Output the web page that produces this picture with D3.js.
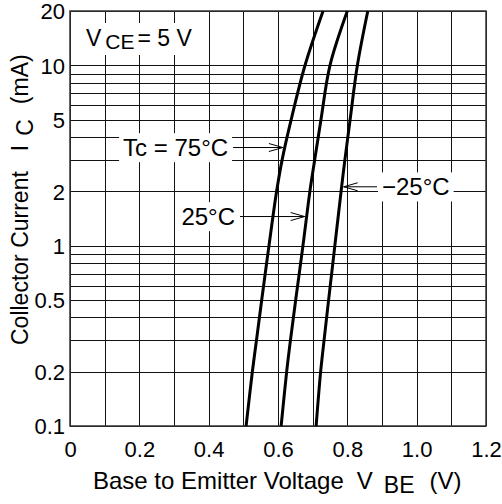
<!DOCTYPE html>
<html><head><meta charset="utf-8">
<script src="https://cdn.jsdelivr.net/npm/d3@7"></script>
<style>
body{margin:0;background:#fff}
svg{display:block}
text{font-family:"Liberation Sans",Arial,Helvetica,sans-serif;fill:#000}
</style>
</head><body>
<svg id="c" width="502" height="504"></svg>
<script>
// ---- data ----
const currents = [0.1, 0.2, 0.3, 0.5, 1, 2, 3, 5, 10, 20];          // Ic (mA)
const vbe75   = [0.508, 0.526, 0.538, 0.553, 0.574, 0.596, 0.612, 0.638, 0.678, 0.730];
const vbe25   = [0.609, 0.625, 0.636, 0.651, 0.672, 0.692, 0.706, 0.724, 0.750, 0.800];
const vbeM25  = [0.710, 0.723, 0.733, 0.746, 0.764, 0.782, 0.793, 0.808, 0.829, 0.859];
const seriesNames = ["Tc = 75°C", "25°C", "−25°C"];
const labelCurrents = [3.5, 1.45, 2.12];      // where arrows touch curves
const labelVbe = [0.456, 0.476, 0.900];       // text edge position (V)
const labelSide = ["left", "left", "right"];
const xTicks = [0, 0.2, 0.4, 0.6, 0.8, 1.0, 1.2];
const xTickLabels = ["0", "0.2", "0.4", "0.6", "0.8", "1.0", "1.2"];
const yTicks = [0.1, 0.2, 0.5, 1, 2, 5, 10, 20];
const yTickLabels = ["0.1", "0.2", "0.5", "1", "2", "5", "10", "20"];
const xGrid = d3.range(0, 13).map(i => i / 10);
const yGrid = [0.1,0.2,0.3,0.4,0.5,0.6,0.7,0.8,0.9,1,2,3,4,5,6,7,8,9,10,20];

// ---- layout ----
const svg = d3.select("#c");
const L = 70, R = 486, T = 11, B = 426;
const x = d3.scaleLinear().domain([0, 1.2]).range([L, R]);
const y = d3.scaleLog().domain([0.1, 20]).range([B, T]);
const series = [vbe75, vbe25, vbeM25];

// grid
const g = svg.append("g").attr("shape-rendering", "crispEdges");
g.selectAll(".vg").data(xGrid).join("line")
  .attr("x1", d => Math.round(x(d)) + 0.5).attr("x2", d => Math.round(x(d)) + 0.5)
  .attr("y1", T).attr("y2", B).attr("stroke", "#111").attr("stroke-width", 1);
g.selectAll(".hg").data(yGrid).join("line")
  .attr("y1", d => Math.round(y(d)) + 0.5).attr("y2", d => Math.round(y(d)) + 0.5)
  .attr("x1", L).attr("x2", R).attr("stroke", "#111").attr("stroke-width", 1);

// frame
svg.append("rect").attr("x", L).attr("y", T).attr("width", R - L).attr("height", B - T)
  .attr("fill", "none").attr("stroke", "#333").attr("stroke-width", 1.5);

// curves
const line = d3.line().x(d => x(d[1])).y(d => y(d[0])).curve(d3.curveCatmullRom.alpha(0.5));
svg.selectAll(".curve").data(series).join("path")
  .attr("d", s => line(currents.map((c, i) => [c, s[i]])))
  .attr("fill", "none").attr("stroke", "#000").attr("stroke-width", 3);

function vAt(s, I) {
  for (let i = 0; i < currents.length - 1; i++) {
    if (I >= currents[i] && I <= currents[i + 1]) {
      const f = Math.log(I / currents[i]) / Math.log(currents[i + 1] / currents[i]);
      return s[i] + f * (s[i + 1] - s[i]);
    }
  }
  return s[s.length - 1];
}

// axes
const fsTick = 22, fsBig = 24;
const ax = svg.append("g").attr("transform", `translate(0,${B})`)
  .call(d3.axisBottom(x).tickValues(xTicks).tickFormat((d, i) => xTickLabels[i]).tickSize(0).tickPadding(15));
ax.select(".domain").remove();
ax.selectAll("text").style("font-size", fsTick + "px");
const ay = svg.append("g").attr("transform", `translate(${L},0)`)
  .call(d3.axisLeft(y).tickValues(yTicks).tickFormat((d, i) => yTickLabels[i]).tickSize(0).tickPadding(5));
ay.select(".domain").remove();
ay.selectAll("text").style("font-size", fsTick + "px").attr("dy", "0.36em");

// axis titles
const xt = svg.append("text").attr("x", 93).attr("y", 489).style("font-size", fsBig + "px");
xt.append("tspan").text("Base to Emitter Voltage");
xt.append("tspan").attr("dx", 13).text("V");
xt.append("tspan").attr("dx", 11).attr("dy", 4).style("font-size", "23px").text("BE");
xt.append("tspan").attr("dx", 15).attr("dy", -4).text("(V)");

const yt = svg.append("text").attr("transform", "translate(28,345) rotate(-90)")
  .style("font-size", "23px");
yt.append("tspan").text("Collector Current");
yt.append("tspan").attr("dx", 20).text("I");
yt.append("tspan").attr("dx", 9).attr("dy", 5).text("C");
yt.append("tspan").attr("dx", 15).attr("dy", -5).text("(mA)");

// VCE label with white box
const vg = svg.append("g");
const vr = vg.append("rect").attr("fill", "#fff");
const vt = vg.append("text").attr("x", 86).attr("y", 46).style("font-size", "23px");
vt.append("tspan").text("V");
vt.append("tspan").attr("dx", 4).attr("dy", 3).style("font-size", "21px").text("CE");
vt.append("tspan").attr("dx", 3).attr("dy", -3).text("= 5 V");
const vb = vt.node().getBBox();
vr.attr("x", vb.x - 6).attr("y", vb.y - 2).attr("width", vb.width + 12).attr("height", vb.height + 4);

// series labels + arrows
series.forEach((s, k) => {
  const I = labelCurrents[k];
  const cy = y(I);
  const cx = x(vAt(s, I));
  const tx = x(labelVbe[k]);
  const gg = svg.append("g");
  const rect = gg.append("rect").attr("fill", "#fff");
  const t = gg.append("text").attr("x", tx).attr("y", cy).attr("dy", "0.36em")
    .style("font-size", fsBig + "px")
    .attr("text-anchor", labelSide[k] === "left" ? "end" : "start")
    .text(seriesNames[k]);
  const bb = t.node().getBBox();
  rect.attr("x", bb.x - 4).attr("y", bb.y - 1).attr("width", bb.width + 8).attr("height", bb.height + 2);
  let x0, x1;
  if (labelSide[k] === "left") { x0 = tx + 5; x1 = cx - 2; }
  else { x0 = tx - 5; x1 = cx + 2; }
  const dir = Math.sign(x1 - x0);
  gg.append("line").attr("x1", x0).attr("x2", x1).attr("y1", cy).attr("y2", cy)
    .attr("stroke", "#000").attr("stroke-width", 1);
  gg.append("path")
    .attr("d", `M${x1 - dir * 14},${cy - 4}L${x1},${cy}L${x1 - dir * 14},${cy + 4}`)
    .attr("fill", "none").attr("stroke", "#000").attr("stroke-width", 1);
});
</script>
</body></html>
